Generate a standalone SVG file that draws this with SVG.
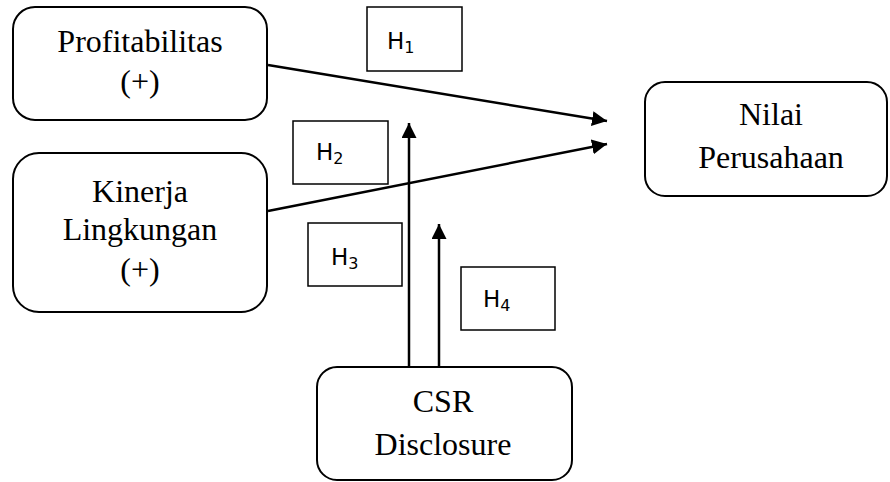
<svg xmlns="http://www.w3.org/2000/svg" width="890" height="482" viewBox="0 0 890 482">
<defs>
<marker id="ah" viewBox="0 0 10 10" refX="10" refY="5" markerWidth="15" markerHeight="15" markerUnits="userSpaceOnUse" orient="auto">
<path d="M0,0 L10,5 L0,10 z" fill="#000"/>
</marker>
</defs>
<rect width="890" height="482" fill="#fff"/>
<g id="h-labels" fill="#fff" stroke="#000" stroke-width="1.5">
<g id="H1"><rect x="367" y="7" width="95" height="64"/><text x="387" y="49" stroke="none" fill="#000" font-family="DejaVu Sans, sans-serif" font-size="23">H<tspan font-size="16" dy="4">1</tspan></text></g>
<g id="H2"><rect x="293" y="121" width="95" height="63"/><text x="316" y="160" stroke="none" fill="#000" font-family="DejaVu Sans, sans-serif" font-size="23">H<tspan font-size="16" dy="4">2</tspan></text></g>
<g id="H3"><rect x="308" y="223" width="94" height="63"/><text x="331" y="265" stroke="none" fill="#000" font-family="DejaVu Sans, sans-serif" font-size="23">H<tspan font-size="16" dy="4">3</tspan></text></g>
<g id="H4"><rect x="461" y="267" width="94" height="63"/><text x="483" y="307" stroke="none" fill="#000" font-family="DejaVu Sans, sans-serif" font-size="23">H<tspan font-size="16" dy="4">4</tspan></text></g>
</g>
<g id="connectors" stroke="#000" stroke-width="2.5" fill="none">
<line x1="268" y1="65" x2="607" y2="121" marker-end="url(#ah)"/>
<line x1="268" y1="211" x2="607" y2="144" marker-end="url(#ah)"/>
<line x1="409" y1="367" x2="409" y2="123" marker-end="url(#ah)"/>
<line x1="439" y1="367" x2="439" y2="224" marker-end="url(#ah)"/>
</g>
<g font-family="Liberation Serif, Times New Roman, serif" font-size="32" text-anchor="middle" fill="#000">
<g id="profitabilitas">
<rect x="13" y="7" width="254" height="113" rx="22" fill="#fff" stroke="#000" stroke-width="2"/>
<text x="140" y="52">Profitabilitas</text>
<text x="140" y="92">(+)</text>
</g>
<g id="kinerja">
<rect x="13" y="153" width="254" height="159" rx="26" fill="#fff" stroke="#000" stroke-width="2"/>
<text x="140" y="202">Kinerja</text>
<text x="140" y="240">Lingkungan</text>
<text x="140" y="280">(+)</text>
</g>
<g id="nilai">
<rect x="645" y="82" width="242" height="114" rx="20" fill="#fff" stroke="#000" stroke-width="2"/>
<text x="771" y="125">Nilai</text>
<text x="771" y="168">Perusahaan</text>
</g>
<g id="csr">
<rect x="317" y="367" width="255" height="113" rx="20" fill="#fff" stroke="#000" stroke-width="2"/>
<text x="443" y="412">CSR</text>
<text x="443" y="455">Disclosure</text>
</g>
</g>
</svg>
